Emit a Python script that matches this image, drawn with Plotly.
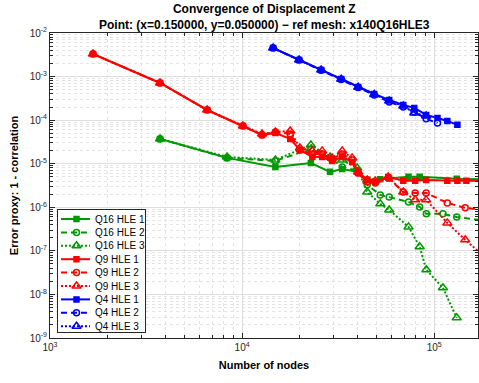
import numpy as np
import plotly.graph_objects as go

# ---------------- data ----------------
# Q16 meshes
q16_hle1_nodes = [3740, 8350, 14900, 22800, 28700, 33200, 39700, 44800, 52400, 58300, 73500, 84000, 131000, 185000]
q16_hle1_err = [3.71e-5, 1.36e-5, 8.45e-6, 1.04e-5, 6.5e-6, 7.6e-6, 6.5e-6, 4.3e-6, 4.4e-6, 4.6e-6, 5.0e-6, 5.0e-6, 4.5e-6, 4.4e-6]

q16_hle2_nodes = [3740, 8350, 14900, 22800, 28700, 33200, 39700, 44800, 52400, 58300, 73500, 84000, 91000, 111000, 131000, 185000]
q16_hle2_err = [3.71e-5, 1.36e-5, 1.16e-5, 2.18e-5, 1.36e-5, 8.45e-6, 6.84e-6, 3.27e-6, 1.92e-6, 1.73e-6, 1.33e-6, 1.02e-6, 7.06e-7, 7.06e-7, 6.0e-7, 4.9e-7]

q16_hle3_nodes = [3740, 8350, 14900, 22800, 28700, 33200, 39700, 44800, 52400, 58300, 73500, 84000, 91000, 111000, 131000]
q16_hle3_err = [3.71e-5, 1.43e-5, 1.22e-5, 2.70e-5, 1.43e-5, 1.22e-5, 8.0e-6, 2.25e-6, 1.2e-6, 8.7e-7, 3.55e-7, 1.24e-7, 3.67e-8, 1.42e-8, 2.9e-9]

# Q9 meshes
q9_hle1_nodes = [1675, 3740, 6580, 10100, 12700, 14900, 17800, 20000, 23200, 26100, 29400, 33200, 37400, 40200,
                 44800, 49300, 57600, 69000, 79600, 90800, 117000, 132000, 147000, 185000]
q9_hle1_err = [3.30e-3, 7.13e-4, 1.71e-4, 7.36e-5, 4.58e-5, 5.08e-5, 3.71e-5, 2.07e-5, 1.43e-5, 1.43e-5, 1.16e-5,
               1.43e-5, 1.10e-5, 6.15e-6, 4.25e-6, 3.83e-6, 4.98e-6, 4.04e-6, 4.04e-6, 4.25e-6, 4.04e-6, 4.04e-6,
               4.04e-6, 4.04e-6]

q9_hle2_nodes = [1675, 3740, 6580, 10100, 12700, 14900, 17800, 20000, 23200, 26100, 29400, 33200, 37400, 40200,
                 44800, 49300, 57600, 69000, 79600, 90800, 117000, 145000, 185000]
q9_hle2_err = [3.30e-3, 7.13e-4, 1.71e-4, 7.36e-5, 4.58e-5, 5.36e-5, 4.82e-5, 2.07e-5, 1.68e-5, 1.68e-5, 1.29e-5,
               1.68e-5, 1.22e-5, 6.15e-6, 3.83e-6, 3.63e-6, 4.72e-6, 2.25e-6, 2.14e-6, 2.14e-6, 1.26e-6, 9.7e-7,
               8.5e-7]

q9_hle3_nodes = [1675, 3740, 6580, 10100, 12700, 14900, 17800, 20000, 23200, 26100, 29400, 33200, 37400, 40200,
                 44800, 49300, 57600, 69000, 79600, 90800, 117000, 145000, 185000]
q9_hle3_err = [3.30e-3, 7.13e-4, 1.71e-4, 7.36e-5, 4.8e-5, 5.36e-5, 5.65e-5, 2.30e-5, 1.97e-5, 1.97e-5, 1.36e-5,
               1.97e-5, 1.36e-5, 6.49e-6, 4.25e-6, 4.04e-6, 4.98e-6, 2.25e-6, 1.48e-6, 1.48e-6, 4.38e-7, 1.79e-7,
               7.0e-8]

# Q4 meshes
q4_hle1_nodes = [14500, 19800, 25800, 32800, 40200, 48700, 58300, 69000, 78700, 90800, 104000, 117000, 132000]
q4_hle1_err = [4.53e-3, 2.41e-3, 1.42e-3, 8.8e-4, 5.77e-4, 3.99e-4, 2.91e-4, 2.23e-4, 1.91e-4, 1.32e-4, 1.12e-4, 9.6e-5, 7.8e-5]

q4_hle2_nodes = [14500, 19800, 25800, 32800, 40200, 48700, 58300, 69000, 78700, 90800, 104000]
q4_hle2_err = [4.53e-3, 2.41e-3, 1.40e-3, 8.6e-4, 5.6e-4, 3.8e-4, 2.61e-4, 2.0e-4, 1.54e-4, 1.07e-4, 8.6e-5]

q4_hle3_nodes = [14500, 19800, 25800, 32800, 40200, 48700, 58300, 69000, 78700, 90800]
q4_hle3_err = [4.53e-3, 2.41e-3, 1.42e-3, 8.7e-4, 5.7e-4, 3.9e-4, 2.75e-4, 2.12e-4, 1.46e-4, 1.25e-4]

x_tick_vals = [1e3, 1e4, 1e5]
x_tick_text = ["10<sup>3</sup>", "10<sup>4</sup>", "10<sup>5</sup>"]
y_tick_vals = [1e-9, 1e-8, 1e-7, 1e-6, 1e-5, 1e-4, 1e-3, 1e-2]
y_tick_text = ["10<sup>-9</sup>", "10<sup>-8</sup>", "10<sup>-7</sup>", "10<sup>-6</sup>",
               "10<sup>-5</sup>", "10<sup>-4</sup>", "10<sup>-3</sup>", "10<sup>-2</sup>"]

# ---------------- styles ----------------
GREEN = "rgb(0,153,0)"
RED = "rgb(255,0,0)"
BLUE = "rgb(0,0,255)"
FONT = "Liberation Sans, Arial, Helvetica, sans-serif"
AX = "rgb(38,38,38)"

hle_style = {
    1: dict(dash="solid", symbol="square", size=5),
    2: dict(dash="6px,4px", symbol="circle-open", size=6),
    3: dict(dash="2px,2px", symbol="triangle-up-open", size=8),
}

series = [
    ("Q16 HLE 1", q16_hle1_nodes, q16_hle1_err, GREEN, 1),
    ("Q16 HLE 2", q16_hle2_nodes, q16_hle2_err, GREEN, 2),
    ("Q16 HLE 3", q16_hle3_nodes, q16_hle3_err, GREEN, 3),
    ("Q9 HLE 1", q9_hle1_nodes, q9_hle1_err, RED, 1),
    ("Q9 HLE 2", q9_hle2_nodes, q9_hle2_err, RED, 2),
    ("Q9 HLE 3", q9_hle3_nodes, q9_hle3_err, RED, 3),
    ("Q4 HLE 1", q4_hle1_nodes, q4_hle1_err, BLUE, 1),
    ("Q4 HLE 2", q4_hle2_nodes, q4_hle2_err, BLUE, 2),
    ("Q4 HLE 3", q4_hle3_nodes, q4_hle3_err, BLUE, 3),
]

fig = go.Figure()
for name, xs, ys, color, hle in series:
    st = hle_style[hle]
    fig.add_trace(go.Scatter(
        x=xs, y=ys, name=name, mode="lines+markers", showlegend=False,
        line=dict(color=color, width=2, dash=st["dash"]),
        marker=dict(symbol=st["symbol"], size=st["size"], color=color,
                    line=dict(color=color, width=1.5)),
        cliponaxis=True,
    ))

# ---------------- legend panel (its own small subplot) ----------------
W, H = 479, 383
ML, MR, MT, MB = 50, 1, 33, 45
pw, ph = W - ML - MR, H - MT - MB
lg_left, lg_right, lg_top, lg_bottom = 58, 145, 210, 332
lg_dom_x = [(lg_left - ML) / pw, (lg_right - ML) / pw]
lg_dom_y = [(H - MB - lg_bottom) / ph, (H - MB - lg_top) / ph]
lg_w, lg_h = lg_right - lg_left, lg_bottom - lg_top
row_y0, row_step = 9, 13.4

annotations = []
for i, (name, xs, ys, color, hle) in enumerate(series):
    st = hle_style[hle]
    ry = row_y0 + row_step * i
    fig.add_trace(go.Scatter(
        x=[3, 32], y=[ry, ry], mode="lines", showlegend=False, hoverinfo="skip",
        line=dict(color=color, width=2, dash=st["dash"]), xaxis="x2", yaxis="y2"))
    fig.add_trace(go.Scatter(
        x=[18.5], y=[ry], mode="markers", showlegend=False, hoverinfo="skip",
        marker=dict(symbol=st["symbol"], size=st["size"], color=color,
                    line=dict(color=color, width=1.5)), xaxis="x2", yaxis="y2"))
    annotations.append(dict(x=35, y=ry, xref="x2", yref="y2", text=name, showarrow=False,
                            xanchor="left", yanchor="middle",
                            font=dict(family=FONT, size=10, color="black")))

# two-line bold title above the axes
annotations.append(dict(
    x=0.5, y=(H - MB) / ph, xref="paper", yref="paper", showarrow=False,
    text="<b>Convergence of Displacement Z</b><br><b>Point: (x=0.150000, y=0.050000) \u2212 ref mesh: x140Q16HLE3</b>",
    xanchor="center", yanchor="top", font=dict(family=FONT, size=12, color="black"), align="center"))

minor_x = [m * 10 ** e for e in range(3, 6) for m in range(2, 10) if m * 10 ** e < 1.7e5]
minor_y = [m * 10.0 ** e for e in range(-9, -2) for m in range(2, 10)]

axis_common = dict(
    type="log", showline=True, linecolor=AX, linewidth=1, mirror="allticks",
    ticks="inside", ticklen=5, tickcolor=AX, tickwidth=1,
    showgrid=True, gridcolor="rgb(222,222,222)", gridwidth=1, zeroline=False,
    tickfont=dict(family=FONT, size=10, color=AX),
)

fig.update_layout(
    width=W, height=H,
    margin=dict(l=ML, r=MR, t=MT, b=MB),
    paper_bgcolor="white", plot_bgcolor="white",
    showlegend=False,
    annotations=annotations,
    xaxis=dict(
        **axis_common,
        range=[3, np.log10(1.69e5)],
        tickvals=x_tick_vals, ticktext=x_tick_text,
        minor=dict(tickvals=minor_x, ticks="inside", ticklen=3, tickcolor=AX,
                   showgrid=True, gridcolor="rgb(228,228,228)", griddash="dot"),
        title=dict(text="<b>Number of nodes</b>", font=dict(family=FONT, size=11, color="black"), standoff=9),
    ),
    yaxis=dict(
        **axis_common,
        range=[-9, -2],
        tickvals=y_tick_vals, ticktext=y_tick_text,
        minor=dict(tickvals=minor_y, ticks="inside", ticklen=3, tickcolor=AX,
                   showgrid=True, gridcolor="rgb(228,228,228)", griddash="dot"),
        title=dict(text="<b>Error proxy: 1 - correlation</b>", font=dict(family=FONT, size=11, color="black"), standoff=8),
    ),
    xaxis2=dict(domain=lg_dom_x, range=[0, lg_w], anchor="y2", showgrid=False, zeroline=False,
                showticklabels=False, ticks="", showline=True, mirror=True, linecolor=AX, linewidth=1,
                fixedrange=True),
    yaxis2=dict(domain=lg_dom_y, range=[lg_h, 0], anchor="x2", showgrid=False, zeroline=False,
                showticklabels=False, ticks="", showline=True, mirror=True, linecolor=AX, linewidth=1,
                fixedrange=True),
)

fig.write_html("out.html")
